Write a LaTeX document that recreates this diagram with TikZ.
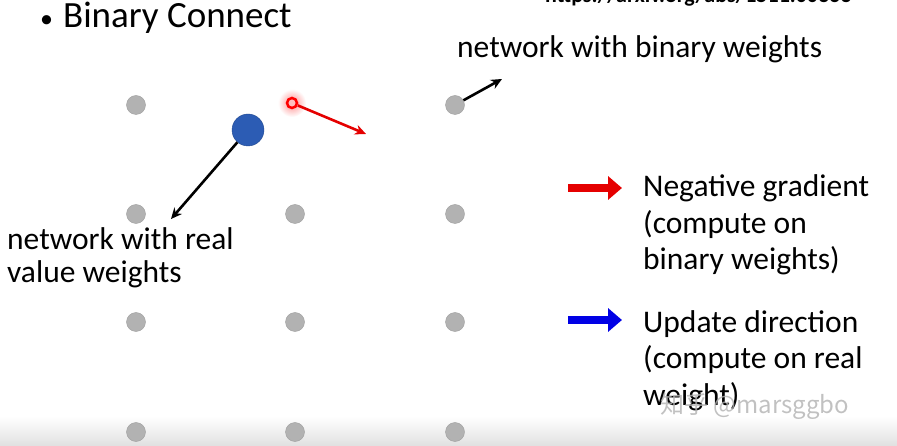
\documentclass[tikz,border=0pt]{standalone}
\usepackage{fontspec}
\setmainfont{Carlito}
\newfontfamily\cjk{Noto Sans CJK SC}
\usetikzlibrary{arrows.meta,positioning}
\definecolor{realblue}{RGB}{44,92,180}

\begin{document}
\begin{tikzpicture}[x=1pt,y=-1pt,
  dot/.style={circle,fill=black!30,draw=black!38,minimum size=19pt,inner sep=0pt},
  lbl/.style={anchor=base west,align=left,inner sep=0pt,font=\fontsize{31.5}{36.5}\selectfont},
  pointer/.style={line width=2.6pt,-{Stealth[length=11pt,width=10pt]}},
  legend/.style={line width=8pt,-{Triangle[length=14pt,width=23pt]}}]
  %%%%% START %%%%%

  \useasboundingbox (0,0) rectangle (897,446);
  \shade[top color=white,bottom color=black!12] (0,416) rectangle (897,446);

  \begin{scope}
    \clip (0,0) rectangle (897,446);
    \node[anchor=base west,inner sep=0pt,font=\fontsize{22}{22}\selectfont\bfseries] (url) at (545,3) {https://arxiv.org/abs/1511.00363};
  \end{scope}

  \node[anchor=base west,inner sep=0pt,font=\fontsize{37}{40}\selectfont] (title) at (40,28) {{\fontsize{26}{26}\selectfont\textbullet}\hspace{10pt}Binary Connect};

  % grid of weights
  \foreach \c/\x in {1/136,2/295,3/455}
    \foreach \r/\y in {1/105,2/214,3/322,4/432}
      \node[dot] (d\c\r) at (\x,\y) {};

  % binary point with gradient
  \shade[inner color=red!45,outer color=white] (292,103) circle (14);
  \node[circle,draw=red,line width=2.5pt,fill=red!25,minimum size=10pt,inner sep=0pt] (grad) at (292,103) {};

  % real valued point
  \node[circle,fill=realblue,draw=realblue!80!black,minimum size=32pt,inner sep=0pt] (real) at (248,130) {};

  \coordinate (gradtip) at (366,134);
  \coordinate (realtip) at (171,219);
  \coordinate (bintip) at (502,79);

  \draw[pointer,red!90!black] (grad) -- (gradtip);
  \draw[pointer] (real) -- (realtip);
  \draw[pointer] (d31) -- (bintip);

  \node[lbl] (binlbl) at (457,58) {network with binary weights};
  \node[lbl,font=\fontsize{31.5}{33}\selectfont] (reallbl) at (7,283) {network with real\\value weights};

  % legend
  \coordinate (neg0) at (568,188);
  \coordinate (neg1) at (622,188);
  \coordinate (upd0) at (568,320);
  \coordinate (upd1) at (622,320);
  \draw[legend,red!90!black] (neg0) -- (neg1);
  \draw[legend,blue!90!black] (upd0) -- (upd1);

  \node[lbl] (neglbl) at (643,270) {Negative gradient\\(compute on\\binary weights)};
  \node[lbl] (updlbl) at (643,405) {Update direction\\(compute on real\\weight)};

  \node[anchor=base west,inner sep=0pt,font=\cjk\fontsize{24}{24}\selectfont,text=black!30,opacity=0.8] (mark) at (660,413) {知乎 @marsggbo};

  %%%%% END %%%%%
\end{tikzpicture}
\end{document}
